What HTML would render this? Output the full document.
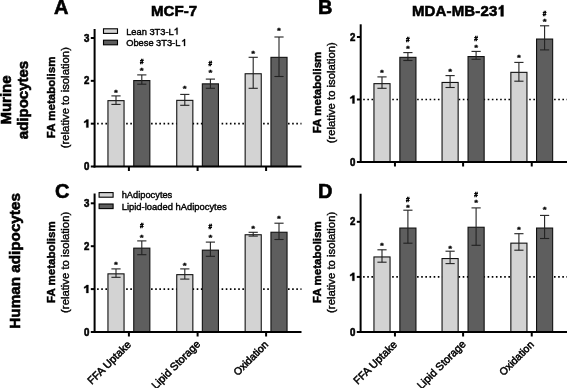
<!DOCTYPE html>
<html><head><meta charset="utf-8"><style>html,body{margin:0;padding:0;background:#fff;}svg{display:block;filter:grayscale(1) blur(0.25px);}</style></head><body>
<svg width="567" height="388" viewBox="0 0 567 388" font-family='"Liberation Sans", sans-serif'>
<rect width="567" height="388" fill="#fff"/>
<text transform="translate(54.1,14.2) scale(1.0,1.04)" font-size="20" font-weight="bold" text-anchor="start" fill="#000" stroke="#000" stroke-width="0.6">A</text>
<text transform="translate(318.1,14.2) scale(1.0,1.04)" font-size="20" font-weight="bold" text-anchor="start" fill="#000" stroke="#000" stroke-width="0.6">B</text>
<text transform="translate(54.9,197.8) scale(1.0,1.04)" font-size="20" font-weight="bold" text-anchor="start" fill="#000" stroke="#000" stroke-width="0.6">C</text>
<text transform="translate(318.1,197.8) scale(1.0,1.04)" font-size="20" font-weight="bold" text-anchor="start" fill="#000" stroke="#000" stroke-width="0.6">D</text>
<text transform="translate(151,16.4) scale(1.0,1.03)" font-size="15.1" font-weight="bold" text-anchor="start" fill="#000" stroke="#000" stroke-width="0.6">MCF-7</text>
<text transform="translate(411.9,16.4) scale(1.0,1.03)" font-size="15" font-weight="bold" text-anchor="start" fill="#000" stroke="#000" stroke-width="0.6" textLength="85.4" lengthAdjust="spacing">MDA-MB-23</text>
<polygon points="503.40,16.30 503.40,5.30 501.40,5.30 500.80,6.40 498.80,7.70 498.80,9.60 500.80,8.60 500.80,16.30" fill="#000" stroke="#000" stroke-width="0.5"/>
<text transform="translate(10.6,100) rotate(-90)" font-size="15" font-weight="bold" text-anchor="middle" fill="#000" stroke="#000" stroke-width="0.6">Murine</text>
<text transform="translate(28.3,100) rotate(-90)" font-size="15" font-weight="bold" text-anchor="middle" fill="#000" stroke="#000" stroke-width="0.6">adipocytes</text>
<text transform="translate(19.8,260.9) rotate(-90)" font-size="15.25" font-weight="bold" text-anchor="middle" fill="#000" stroke="#000" stroke-width="0.6">Human adipocytes</text>
<rect x="103.5" y="28.8" width="14" height="4.6" fill="#d3d3d3" stroke="#000" stroke-width="1.1"/>
<rect x="103.5" y="40.2" width="14" height="4.6" fill="#5e5e5e" stroke="#000" stroke-width="1.1"/>
<text transform="translate(126.2,34.6) scale(1.0,1.04)" font-size="9.3" font-weight="normal" text-anchor="start" fill="#000" stroke="#000" stroke-width="0.4">Lean 3T3-L</text>
<polygon points="177.60,34.60 177.60,27.70 176.50,27.70 176.10,28.50 174.60,29.40 174.60,30.40 176.45,29.60 176.45,34.60" fill="#000" stroke="#000" stroke-width="0.25"/>
<text transform="translate(126.2,46.0) scale(1.0,1.04)" font-size="9.3" font-weight="normal" text-anchor="start" fill="#000" stroke="#000" stroke-width="0.4">Obese 3T3-L</text>
<polygon points="185.10,46.00 185.10,39.10 184.00,39.10 183.60,39.90 182.10,40.80 182.10,41.80 183.95,41.00 183.95,46.00" fill="#000" stroke="#000" stroke-width="0.25"/>
<rect x="99.1" y="192.6" width="14" height="4.6" fill="#d3d3d3" stroke="#000" stroke-width="1.1"/>
<rect x="99.1" y="204.0" width="14" height="4.6" fill="#5e5e5e" stroke="#000" stroke-width="1.1"/>
<text transform="translate(121.7,198.3) scale(1.0,1.04)" font-size="9.3" font-weight="normal" text-anchor="start" fill="#000" stroke="#000" stroke-width="0.4">hAdipocytes</text>
<text transform="translate(121.7,209.5) scale(1.0,1.04)" font-size="9.4" font-weight="normal" text-anchor="start" fill="#000" stroke="#000" stroke-width="0.4">Lipid-loaded hAdipocytes</text>
<line x1="97.1" y1="123.67" x2="301.5" y2="123.67" stroke="#000" stroke-width="1.6" stroke-dasharray="1.6 2.55"/>
<rect x="107.95" y="100.64999999999999" width="16.099999999999998" height="65.85000000000001" fill="#d3d3d3" stroke="#111" stroke-width="1.1"/>
<line x1="116.0" y1="95.9" x2="116.0" y2="104.4" stroke="#222" stroke-width="1.1"/>
<line x1="111.4" y1="95.9" x2="120.6" y2="95.9" stroke="#222" stroke-width="1.1"/>
<line x1="111.4" y1="104.4" x2="120.6" y2="104.4" stroke="#222" stroke-width="1.1"/>
<text transform="translate(116.0,91.4) scale(1.1,0.8)" y="4.7" font-size="9" font-weight="bold" text-anchor="middle" stroke="#000" stroke-width="0.35">*</text>
<rect x="133.75" y="80.55" width="16.099999999999998" height="85.95" fill="#5e5e5e" stroke="#111" stroke-width="1.1"/>
<line x1="141.79999999999998" y1="74.9" x2="141.79999999999998" y2="84.2" stroke="#222" stroke-width="1.1"/>
<line x1="137.2" y1="74.9" x2="146.39999999999998" y2="74.9" stroke="#222" stroke-width="1.1"/>
<line x1="137.2" y1="84.2" x2="146.39999999999998" y2="84.2" stroke="#222" stroke-width="1.1"/>
<text transform="translate(141.79999999999998,69.0) scale(1.1,0.8)" y="4.7" font-size="9" font-weight="bold" text-anchor="middle" stroke="#000" stroke-width="0.35">*</text>
<text x="141.79999999999998" y="64.4" font-size="6.4" font-weight="bold" text-anchor="middle" stroke="#000" stroke-width="0.45">#</text>
<rect x="176.75" y="100.35" width="16.099999999999998" height="66.15" fill="#d3d3d3" stroke="#111" stroke-width="1.1"/>
<line x1="184.79999999999998" y1="94.4" x2="184.79999999999998" y2="105.3" stroke="#222" stroke-width="1.1"/>
<line x1="180.2" y1="94.4" x2="189.39999999999998" y2="94.4" stroke="#222" stroke-width="1.1"/>
<line x1="180.2" y1="105.3" x2="189.39999999999998" y2="105.3" stroke="#222" stroke-width="1.1"/>
<text transform="translate(184.79999999999998,87.7) scale(1.1,0.8)" y="4.7" font-size="9" font-weight="bold" text-anchor="middle" stroke="#000" stroke-width="0.35">*</text>
<rect x="202.35000000000002" y="83.85" width="16.099999999999998" height="82.65" fill="#5e5e5e" stroke="#111" stroke-width="1.1"/>
<line x1="210.4" y1="79.1" x2="210.4" y2="88.3" stroke="#222" stroke-width="1.1"/>
<line x1="205.8" y1="79.1" x2="215.0" y2="79.1" stroke="#222" stroke-width="1.1"/>
<line x1="205.8" y1="88.3" x2="215.0" y2="88.3" stroke="#222" stroke-width="1.1"/>
<text transform="translate(210.4,71.7) scale(1.1,0.8)" y="4.7" font-size="9" font-weight="bold" text-anchor="middle" stroke="#000" stroke-width="0.35">*</text>
<text x="210.4" y="66.0" font-size="6.4" font-weight="bold" text-anchor="middle" stroke="#000" stroke-width="0.45">#</text>
<rect x="245.15" y="73.75" width="16.099999999999998" height="92.75" fill="#d3d3d3" stroke="#111" stroke-width="1.1"/>
<line x1="253.2" y1="57.3" x2="253.2" y2="88.3" stroke="#222" stroke-width="1.1"/>
<line x1="248.6" y1="57.3" x2="257.8" y2="57.3" stroke="#222" stroke-width="1.1"/>
<line x1="248.6" y1="88.3" x2="257.8" y2="88.3" stroke="#222" stroke-width="1.1"/>
<text transform="translate(253.2,51.9) scale(1.1,0.8)" y="4.7" font-size="9" font-weight="bold" text-anchor="middle" stroke="#000" stroke-width="0.35">*</text>
<rect x="270.95" y="57.349999999999994" width="16.099999999999998" height="109.15" fill="#5e5e5e" stroke="#111" stroke-width="1.1"/>
<line x1="279.0" y1="37.0" x2="279.0" y2="76.5" stroke="#222" stroke-width="1.1"/>
<line x1="274.4" y1="37.0" x2="283.6" y2="37.0" stroke="#222" stroke-width="1.1"/>
<line x1="274.4" y1="76.5" x2="283.6" y2="76.5" stroke="#222" stroke-width="1.1"/>
<text transform="translate(279.0,29.3) scale(1.1,0.8)" y="4.7" font-size="9" font-weight="bold" text-anchor="middle" stroke="#000" stroke-width="0.35">*</text>
<line x1="94.6" y1="29" x2="94.6" y2="167.5" stroke="#000" stroke-width="2"/>
<line x1="93.6" y1="166.5" x2="301.5" y2="166.5" stroke="#000" stroke-width="2"/>
<line x1="90.8" y1="166.5" x2="94.6" y2="166.5" stroke="#000" stroke-width="2"/>
<text transform="translate(89.3,170.05) scale(1.0,1.08)" font-size="9.7" font-weight="bold" text-anchor="end" fill="#000" stroke="#000" stroke-width="0.55">0</text>
<line x1="90.8" y1="123.67" x2="94.6" y2="123.67" stroke="#000" stroke-width="2"/>
<polygon points="88.40,127.57 88.40,119.57 86.50,119.57 85.80,120.47 84.10,121.47 84.10,122.97 86.30,122.07 86.30,127.57" fill="#000" stroke="#000" stroke-width="0.3"/>
<line x1="90.8" y1="80.84" x2="94.6" y2="80.84" stroke="#000" stroke-width="2"/>
<text transform="translate(89.3,84.39) scale(1.0,1.08)" font-size="9.7" font-weight="bold" text-anchor="end" fill="#000" stroke="#000" stroke-width="0.55">2</text>
<line x1="90.8" y1="38.00999999999999" x2="94.6" y2="38.00999999999999" stroke="#000" stroke-width="2"/>
<text transform="translate(89.3,41.55999999999999) scale(1.0,1.08)" font-size="9.7" font-weight="bold" text-anchor="end" fill="#000" stroke="#000" stroke-width="0.55">3</text>
<line x1="128.9" y1="166.5" x2="128.9" y2="171.0" stroke="#000" stroke-width="2"/>
<line x1="197.6" y1="166.5" x2="197.6" y2="171.0" stroke="#000" stroke-width="2"/>
<line x1="266.1" y1="166.5" x2="266.1" y2="171.0" stroke="#000" stroke-width="2"/>
<text transform="translate(55.199999999999996,97.4) rotate(-90)" font-size="11.55" font-weight="bold" text-anchor="middle" fill="#000" stroke="#000" stroke-width="0.45">FA metabolism</text>
<text transform="translate(69.39999999999999,97.65) rotate(-90)" font-size="11.3" font-weight="normal" text-anchor="middle" fill="#000" stroke="#000" stroke-width="0.4">(relative to isolation)</text>
<line x1="363.2" y1="99.5" x2="567" y2="99.5" stroke="#000" stroke-width="1.6" stroke-dasharray="1.6 2.55"/>
<rect x="373.95" y="83.64999999999999" width="16.099999999999998" height="78.35000000000001" fill="#d3d3d3" stroke="#111" stroke-width="1.1"/>
<line x1="382.0" y1="76.9" x2="382.0" y2="88.3" stroke="#222" stroke-width="1.1"/>
<line x1="377.4" y1="76.9" x2="386.6" y2="76.9" stroke="#222" stroke-width="1.1"/>
<line x1="377.4" y1="88.3" x2="386.6" y2="88.3" stroke="#222" stroke-width="1.1"/>
<text transform="translate(382.0,71.5) scale(1.1,0.8)" y="4.7" font-size="9" font-weight="bold" text-anchor="middle" stroke="#000" stroke-width="0.35">*</text>
<rect x="399.85" y="57.349999999999994" width="16.099999999999998" height="104.65" fill="#5e5e5e" stroke="#111" stroke-width="1.1"/>
<line x1="407.90000000000003" y1="52.6" x2="407.90000000000003" y2="60.5" stroke="#222" stroke-width="1.1"/>
<line x1="403.3" y1="52.6" x2="412.50000000000006" y2="52.6" stroke="#222" stroke-width="1.1"/>
<line x1="403.3" y1="60.5" x2="412.50000000000006" y2="60.5" stroke="#222" stroke-width="1.1"/>
<text transform="translate(407.90000000000003,47.3) scale(1.1,0.8)" y="4.7" font-size="9" font-weight="bold" text-anchor="middle" stroke="#000" stroke-width="0.35">*</text>
<text x="407.90000000000003" y="41.900000000000006" font-size="6.4" font-weight="bold" text-anchor="middle" stroke="#000" stroke-width="0.45">#</text>
<rect x="442.05" y="82.45" width="16.099999999999998" height="79.55" fill="#d3d3d3" stroke="#111" stroke-width="1.1"/>
<line x1="450.1" y1="75.6" x2="450.1" y2="87.5" stroke="#222" stroke-width="1.1"/>
<line x1="445.5" y1="75.6" x2="454.70000000000005" y2="75.6" stroke="#222" stroke-width="1.1"/>
<line x1="445.5" y1="87.5" x2="454.70000000000005" y2="87.5" stroke="#222" stroke-width="1.1"/>
<text transform="translate(450.1,70.5) scale(1.1,0.8)" y="4.7" font-size="9" font-weight="bold" text-anchor="middle" stroke="#000" stroke-width="0.35">*</text>
<rect x="468.05" y="56.55" width="16.099999999999998" height="105.45" fill="#5e5e5e" stroke="#111" stroke-width="1.1"/>
<line x1="476.1" y1="51.4" x2="476.1" y2="59.3" stroke="#222" stroke-width="1.1"/>
<line x1="471.5" y1="51.4" x2="480.70000000000005" y2="51.4" stroke="#222" stroke-width="1.1"/>
<line x1="471.5" y1="59.3" x2="480.70000000000005" y2="59.3" stroke="#222" stroke-width="1.1"/>
<text transform="translate(476.1,45.9) scale(1.1,0.8)" y="4.7" font-size="9" font-weight="bold" text-anchor="middle" stroke="#000" stroke-width="0.35">*</text>
<text x="476.1" y="40.6" font-size="6.4" font-weight="bold" text-anchor="middle" stroke="#000" stroke-width="0.45">#</text>
<rect x="510.85" y="72.35" width="16.099999999999998" height="89.65" fill="#d3d3d3" stroke="#111" stroke-width="1.1"/>
<line x1="518.9" y1="62.4" x2="518.9" y2="81.2" stroke="#222" stroke-width="1.1"/>
<line x1="514.3" y1="62.4" x2="523.5" y2="62.4" stroke="#222" stroke-width="1.1"/>
<line x1="514.3" y1="81.2" x2="523.5" y2="81.2" stroke="#222" stroke-width="1.1"/>
<text transform="translate(518.9,55.8) scale(1.1,0.8)" y="4.7" font-size="9" font-weight="bold" text-anchor="middle" stroke="#000" stroke-width="0.35">*</text>
<rect x="536.55" y="39.05" width="16.099999999999998" height="122.95" fill="#5e5e5e" stroke="#111" stroke-width="1.1"/>
<line x1="544.6" y1="25.8" x2="544.6" y2="49.9" stroke="#222" stroke-width="1.1"/>
<line x1="540.0" y1="25.8" x2="549.2" y2="25.8" stroke="#222" stroke-width="1.1"/>
<line x1="540.0" y1="49.9" x2="549.2" y2="49.9" stroke="#222" stroke-width="1.1"/>
<text transform="translate(544.6,20.3) scale(1.1,0.8)" y="4.7" font-size="9" font-weight="bold" text-anchor="middle" stroke="#000" stroke-width="0.35">*</text>
<text x="544.6" y="16.4" font-size="6.4" font-weight="bold" text-anchor="middle" stroke="#000" stroke-width="0.45">#</text>
<line x1="360.7" y1="24.3" x2="360.7" y2="163" stroke="#000" stroke-width="2"/>
<line x1="359.7" y1="162" x2="567" y2="162" stroke="#000" stroke-width="2"/>
<line x1="356.9" y1="162.0" x2="360.7" y2="162.0" stroke="#000" stroke-width="2"/>
<text transform="translate(355.4,165.55) scale(1.0,1.08)" font-size="9.7" font-weight="bold" text-anchor="end" fill="#000" stroke="#000" stroke-width="0.55">0</text>
<line x1="356.9" y1="99.5" x2="360.7" y2="99.5" stroke="#000" stroke-width="2"/>
<polygon points="354.50,103.40 354.50,95.40 352.60,95.40 351.90,96.30 350.20,97.30 350.20,98.80 352.40,97.90 352.40,103.40" fill="#000" stroke="#000" stroke-width="0.3"/>
<line x1="356.9" y1="37.0" x2="360.7" y2="37.0" stroke="#000" stroke-width="2"/>
<text transform="translate(355.4,40.55) scale(1.0,1.08)" font-size="9.7" font-weight="bold" text-anchor="end" fill="#000" stroke="#000" stroke-width="0.55">2</text>
<line x1="394.95000000000005" y1="162" x2="394.95000000000005" y2="166.5" stroke="#000" stroke-width="2"/>
<line x1="463.1" y1="162" x2="463.1" y2="166.5" stroke="#000" stroke-width="2"/>
<line x1="531.75" y1="162" x2="531.75" y2="166.5" stroke="#000" stroke-width="2"/>
<text transform="translate(320.59999999999997,92.5) rotate(-90)" font-size="11.55" font-weight="bold" text-anchor="middle" fill="#000" stroke="#000" stroke-width="0.45">FA metabolism</text>
<text transform="translate(334.8,92.75) rotate(-90)" font-size="11.3" font-weight="normal" text-anchor="middle" fill="#000" stroke="#000" stroke-width="0.4">(relative to isolation)</text>
<line x1="97.1" y1="289.1" x2="301.5" y2="289.1" stroke="#000" stroke-width="1.6" stroke-dasharray="1.6 2.55"/>
<rect x="107.95" y="273.85" width="16.099999999999998" height="58.14999999999999" fill="#d3d3d3" stroke="#111" stroke-width="1.1"/>
<line x1="116.0" y1="268.9" x2="116.0" y2="277.3" stroke="#222" stroke-width="1.1"/>
<line x1="111.4" y1="268.9" x2="120.6" y2="268.9" stroke="#222" stroke-width="1.1"/>
<line x1="111.4" y1="277.3" x2="120.6" y2="277.3" stroke="#222" stroke-width="1.1"/>
<text transform="translate(116.0,263.6) scale(1.1,0.8)" y="4.7" font-size="9" font-weight="bold" text-anchor="middle" stroke="#000" stroke-width="0.35">*</text>
<rect x="133.75" y="248.15" width="16.099999999999998" height="83.85000000000001" fill="#5e5e5e" stroke="#111" stroke-width="1.1"/>
<line x1="141.79999999999998" y1="240.9" x2="141.79999999999998" y2="254.7" stroke="#222" stroke-width="1.1"/>
<line x1="137.2" y1="240.9" x2="146.39999999999998" y2="240.9" stroke="#222" stroke-width="1.1"/>
<line x1="137.2" y1="254.7" x2="146.39999999999998" y2="254.7" stroke="#222" stroke-width="1.1"/>
<text transform="translate(141.79999999999998,235.9) scale(1.1,0.8)" y="4.7" font-size="9" font-weight="bold" text-anchor="middle" stroke="#000" stroke-width="0.35">*</text>
<text x="141.79999999999998" y="228.39999999999998" font-size="6.4" font-weight="bold" text-anchor="middle" stroke="#000" stroke-width="0.45">#</text>
<rect x="176.75" y="274.65000000000003" width="16.099999999999998" height="57.34999999999998" fill="#d3d3d3" stroke="#111" stroke-width="1.1"/>
<line x1="184.79999999999998" y1="268.9" x2="184.79999999999998" y2="279.1" stroke="#222" stroke-width="1.1"/>
<line x1="180.2" y1="268.9" x2="189.39999999999998" y2="268.9" stroke="#222" stroke-width="1.1"/>
<line x1="180.2" y1="279.1" x2="189.39999999999998" y2="279.1" stroke="#222" stroke-width="1.1"/>
<text transform="translate(184.79999999999998,264.4) scale(1.1,0.8)" y="4.7" font-size="9" font-weight="bold" text-anchor="middle" stroke="#000" stroke-width="0.35">*</text>
<rect x="202.35000000000002" y="250.15" width="16.099999999999998" height="81.85000000000001" fill="#5e5e5e" stroke="#111" stroke-width="1.1"/>
<line x1="210.4" y1="242.1" x2="210.4" y2="256.3" stroke="#222" stroke-width="1.1"/>
<line x1="205.8" y1="242.1" x2="215.0" y2="242.1" stroke="#222" stroke-width="1.1"/>
<line x1="205.8" y1="256.3" x2="215.0" y2="256.3" stroke="#222" stroke-width="1.1"/>
<text transform="translate(210.4,236.4) scale(1.1,0.8)" y="4.7" font-size="9" font-weight="bold" text-anchor="middle" stroke="#000" stroke-width="0.35">*</text>
<text x="210.4" y="229.2" font-size="6.4" font-weight="bold" text-anchor="middle" stroke="#000" stroke-width="0.45">#</text>
<rect x="245.15" y="234.75" width="16.099999999999998" height="97.25000000000001" fill="#d3d3d3" stroke="#111" stroke-width="1.1"/>
<line x1="253.2" y1="232.3" x2="253.2" y2="236.1" stroke="#222" stroke-width="1.1"/>
<line x1="248.6" y1="232.3" x2="257.8" y2="232.3" stroke="#222" stroke-width="1.1"/>
<line x1="248.6" y1="236.1" x2="257.8" y2="236.1" stroke="#222" stroke-width="1.1"/>
<text transform="translate(253.2,227.0) scale(1.1,0.8)" y="4.7" font-size="9" font-weight="bold" text-anchor="middle" stroke="#000" stroke-width="0.35">*</text>
<rect x="270.95" y="232.25" width="16.099999999999998" height="99.75000000000001" fill="#5e5e5e" stroke="#111" stroke-width="1.1"/>
<line x1="279.0" y1="223.2" x2="279.0" y2="239.5" stroke="#222" stroke-width="1.1"/>
<line x1="274.4" y1="223.2" x2="283.6" y2="223.2" stroke="#222" stroke-width="1.1"/>
<line x1="274.4" y1="239.5" x2="283.6" y2="239.5" stroke="#222" stroke-width="1.1"/>
<text transform="translate(279.0,217.5) scale(1.1,0.8)" y="4.7" font-size="9" font-weight="bold" text-anchor="middle" stroke="#000" stroke-width="0.35">*</text>
<line x1="94.6" y1="193.5" x2="94.6" y2="333" stroke="#000" stroke-width="2"/>
<line x1="93.6" y1="332" x2="301.5" y2="332" stroke="#000" stroke-width="2"/>
<line x1="90.8" y1="332.0" x2="94.6" y2="332.0" stroke="#000" stroke-width="2"/>
<text transform="translate(89.3,335.55) scale(1.0,1.08)" font-size="9.7" font-weight="bold" text-anchor="end" fill="#000" stroke="#000" stroke-width="0.55">0</text>
<line x1="90.8" y1="289.1" x2="94.6" y2="289.1" stroke="#000" stroke-width="2"/>
<polygon points="88.40,293.00 88.40,285.00 86.50,285.00 85.80,285.90 84.10,286.90 84.10,288.40 86.30,287.50 86.30,293.00" fill="#000" stroke="#000" stroke-width="0.3"/>
<line x1="90.8" y1="246.2" x2="94.6" y2="246.2" stroke="#000" stroke-width="2"/>
<text transform="translate(89.3,249.75) scale(1.0,1.08)" font-size="9.7" font-weight="bold" text-anchor="end" fill="#000" stroke="#000" stroke-width="0.55">2</text>
<line x1="90.8" y1="203.3" x2="94.6" y2="203.3" stroke="#000" stroke-width="2"/>
<text transform="translate(89.3,206.85000000000002) scale(1.0,1.08)" font-size="9.7" font-weight="bold" text-anchor="end" fill="#000" stroke="#000" stroke-width="0.55">3</text>
<line x1="128.9" y1="332" x2="128.9" y2="336.5" stroke="#000" stroke-width="2"/>
<line x1="197.6" y1="332" x2="197.6" y2="336.5" stroke="#000" stroke-width="2"/>
<line x1="266.1" y1="332" x2="266.1" y2="336.5" stroke="#000" stroke-width="2"/>
<text transform="translate(55.199999999999996,262.1) rotate(-90)" font-size="11.55" font-weight="bold" text-anchor="middle" fill="#000" stroke="#000" stroke-width="0.45">FA metabolism</text>
<text transform="translate(69.39999999999999,262.35) rotate(-90)" font-size="11.3" font-weight="normal" text-anchor="middle" fill="#000" stroke="#000" stroke-width="0.4">(relative to isolation)</text>
<line x1="363.1" y1="276.9" x2="567" y2="276.9" stroke="#000" stroke-width="1.6" stroke-dasharray="1.6 2.55"/>
<rect x="373.95" y="256.95" width="16.099999999999998" height="75.05000000000003" fill="#d3d3d3" stroke="#111" stroke-width="1.1"/>
<line x1="382.0" y1="249.8" x2="382.0" y2="262.2" stroke="#222" stroke-width="1.1"/>
<line x1="377.4" y1="249.8" x2="386.6" y2="249.8" stroke="#222" stroke-width="1.1"/>
<line x1="377.4" y1="262.2" x2="386.6" y2="262.2" stroke="#222" stroke-width="1.1"/>
<text transform="translate(382.0,244.0) scale(1.1,0.8)" y="4.7" font-size="9" font-weight="bold" text-anchor="middle" stroke="#000" stroke-width="0.35">*</text>
<rect x="399.85" y="228.05" width="16.099999999999998" height="103.95" fill="#5e5e5e" stroke="#111" stroke-width="1.1"/>
<line x1="407.90000000000003" y1="210.2" x2="407.90000000000003" y2="243.2" stroke="#222" stroke-width="1.1"/>
<line x1="403.3" y1="210.2" x2="412.50000000000006" y2="210.2" stroke="#222" stroke-width="1.1"/>
<line x1="403.3" y1="243.2" x2="412.50000000000006" y2="243.2" stroke="#222" stroke-width="1.1"/>
<text transform="translate(407.90000000000003,206.1) scale(1.1,0.8)" y="4.7" font-size="9" font-weight="bold" text-anchor="middle" stroke="#000" stroke-width="0.35">*</text>
<text x="407.90000000000003" y="201.5" font-size="6.4" font-weight="bold" text-anchor="middle" stroke="#000" stroke-width="0.45">#</text>
<rect x="442.05" y="258.55" width="16.099999999999998" height="73.45" fill="#d3d3d3" stroke="#111" stroke-width="1.1"/>
<line x1="450.1" y1="251.2" x2="450.1" y2="263.6" stroke="#222" stroke-width="1.1"/>
<line x1="445.5" y1="251.2" x2="454.70000000000005" y2="251.2" stroke="#222" stroke-width="1.1"/>
<line x1="445.5" y1="263.6" x2="454.70000000000005" y2="263.6" stroke="#222" stroke-width="1.1"/>
<text transform="translate(450.1,247.3) scale(1.1,0.8)" y="4.7" font-size="9" font-weight="bold" text-anchor="middle" stroke="#000" stroke-width="0.35">*</text>
<rect x="468.05" y="227.25" width="16.099999999999998" height="104.75000000000001" fill="#5e5e5e" stroke="#111" stroke-width="1.1"/>
<line x1="476.1" y1="207.9" x2="476.1" y2="245.3" stroke="#222" stroke-width="1.1"/>
<line x1="471.5" y1="207.9" x2="480.70000000000005" y2="207.9" stroke="#222" stroke-width="1.1"/>
<line x1="471.5" y1="245.3" x2="480.70000000000005" y2="245.3" stroke="#222" stroke-width="1.1"/>
<text transform="translate(476.1,201.3) scale(1.1,0.8)" y="4.7" font-size="9" font-weight="bold" text-anchor="middle" stroke="#000" stroke-width="0.35">*</text>
<text x="476.1" y="196.7" font-size="6.4" font-weight="bold" text-anchor="middle" stroke="#000" stroke-width="0.45">#</text>
<rect x="510.85" y="243.15" width="16.099999999999998" height="88.85000000000001" fill="#d3d3d3" stroke="#111" stroke-width="1.1"/>
<line x1="518.9" y1="233.7" x2="518.9" y2="250.2" stroke="#222" stroke-width="1.1"/>
<line x1="514.3" y1="233.7" x2="523.5" y2="233.7" stroke="#222" stroke-width="1.1"/>
<line x1="514.3" y1="250.2" x2="523.5" y2="250.2" stroke="#222" stroke-width="1.1"/>
<text transform="translate(518.9,228.6) scale(1.1,0.8)" y="4.7" font-size="9" font-weight="bold" text-anchor="middle" stroke="#000" stroke-width="0.35">*</text>
<rect x="536.55" y="228.05" width="16.099999999999998" height="103.95" fill="#5e5e5e" stroke="#111" stroke-width="1.1"/>
<line x1="544.6" y1="215.4" x2="544.6" y2="238.5" stroke="#222" stroke-width="1.1"/>
<line x1="540.0" y1="215.4" x2="549.2" y2="215.4" stroke="#222" stroke-width="1.1"/>
<line x1="540.0" y1="238.5" x2="549.2" y2="238.5" stroke="#222" stroke-width="1.1"/>
<text transform="translate(544.6,208.6) scale(1.1,0.8)" y="4.7" font-size="9" font-weight="bold" text-anchor="middle" stroke="#000" stroke-width="0.35">*</text>
<line x1="360.6" y1="193.75" x2="360.6" y2="333" stroke="#000" stroke-width="2"/>
<line x1="359.6" y1="332" x2="567" y2="332" stroke="#000" stroke-width="2"/>
<line x1="356.8" y1="332.0" x2="360.6" y2="332.0" stroke="#000" stroke-width="2"/>
<text transform="translate(355.3,335.55) scale(1.0,1.08)" font-size="9.7" font-weight="bold" text-anchor="end" fill="#000" stroke="#000" stroke-width="0.55">0</text>
<line x1="356.8" y1="276.9" x2="360.6" y2="276.9" stroke="#000" stroke-width="2"/>
<polygon points="354.40,280.80 354.40,272.80 352.50,272.80 351.80,273.70 350.10,274.70 350.10,276.20 352.30,275.30 352.30,280.80" fill="#000" stroke="#000" stroke-width="0.3"/>
<line x1="356.8" y1="221.8" x2="360.6" y2="221.8" stroke="#000" stroke-width="2"/>
<text transform="translate(355.3,225.35000000000002) scale(1.0,1.08)" font-size="9.7" font-weight="bold" text-anchor="end" fill="#000" stroke="#000" stroke-width="0.55">2</text>
<line x1="394.95000000000005" y1="332" x2="394.95000000000005" y2="336.5" stroke="#000" stroke-width="2"/>
<line x1="463.1" y1="332" x2="463.1" y2="336.5" stroke="#000" stroke-width="2"/>
<line x1="531.75" y1="332" x2="531.75" y2="336.5" stroke="#000" stroke-width="2"/>
<text transform="translate(320.59999999999997,262.1) rotate(-90)" font-size="11.55" font-weight="bold" text-anchor="middle" fill="#000" stroke="#000" stroke-width="0.45">FA metabolism</text>
<text transform="translate(334.8,262.35) rotate(-90)" font-size="11.3" font-weight="normal" text-anchor="middle" fill="#000" stroke="#000" stroke-width="0.4">(relative to isolation)</text>
<text transform="translate(131.70000000000002,345.2) rotate(-45)" font-size="10.8" font-weight="normal" text-anchor="end" fill="#000" stroke="#000" stroke-width="0.5">FFA Uptake</text>
<text transform="translate(201.1,344.7) rotate(-45)" font-size="10.8" font-weight="normal" text-anchor="end" fill="#000" stroke="#000" stroke-width="0.5">Lipid Storage</text>
<text transform="translate(268.90000000000003,345.2) rotate(-45)" font-size="10.4" font-weight="normal" text-anchor="end" fill="#000" stroke="#000" stroke-width="0.5">Oxidation</text>
<text transform="translate(397.75000000000006,345.2) rotate(-45)" font-size="10.8" font-weight="normal" text-anchor="end" fill="#000" stroke="#000" stroke-width="0.5">FFA Uptake</text>
<text transform="translate(466.6,344.7) rotate(-45)" font-size="10.8" font-weight="normal" text-anchor="end" fill="#000" stroke="#000" stroke-width="0.5">Lipid Storage</text>
<text transform="translate(534.55,345.2) rotate(-45)" font-size="10.4" font-weight="normal" text-anchor="end" fill="#000" stroke="#000" stroke-width="0.5">Oxidation</text>
</svg>
</body></html>
